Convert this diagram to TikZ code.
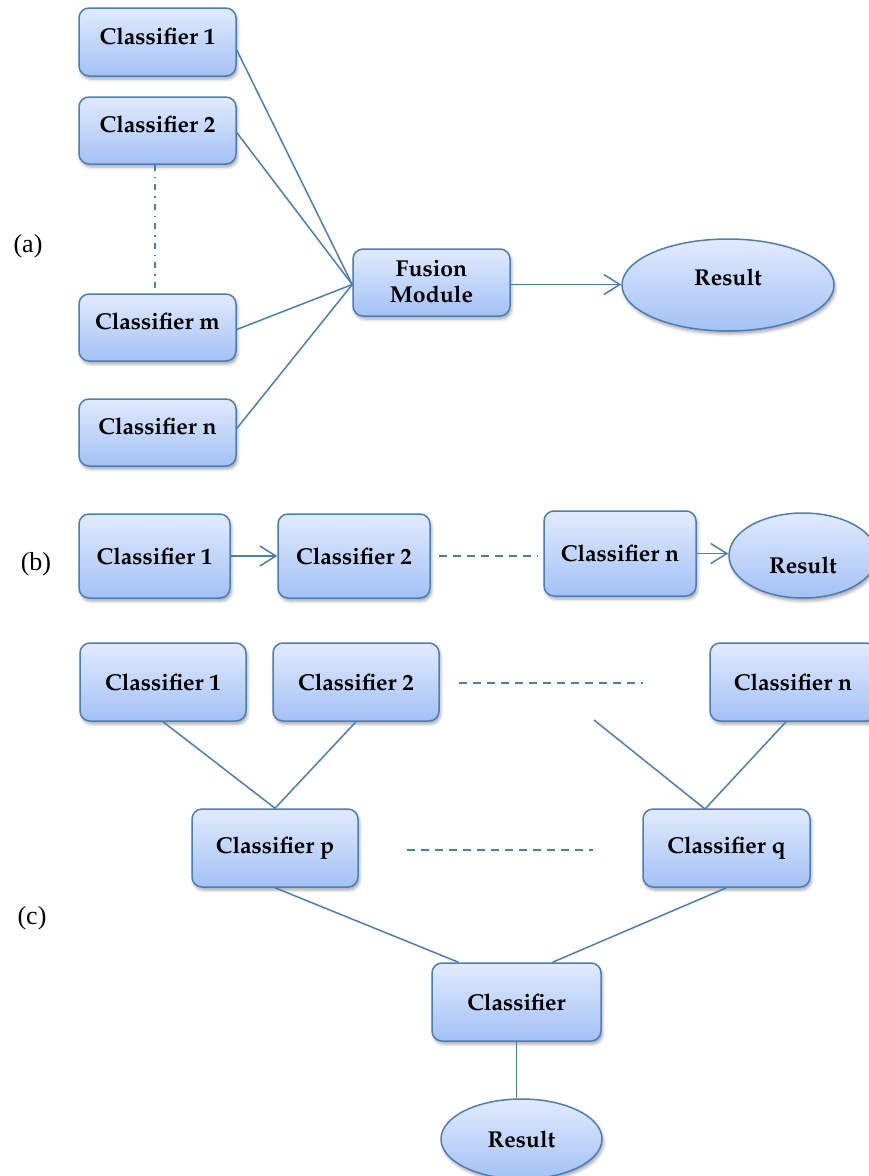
\documentclass[tikz,border=0pt]{standalone}
\usepackage[T1]{fontenc}
\usepackage{fontspec}
\newfontfamily\labelfont{Liberation Serif}
\newcommand\palbold{\fontencoding{T1}\fontfamily{ppl}\fontseries{b}\fontshape{n}\fontsize{23}{26}\selectfont}
\newcommand\labfont{\labelfont\fontsize{26}{30}\selectfont}
\usetikzlibrary{arrows.meta,shadows.blur,shapes.geometric}

\definecolor{edge}{HTML}{4A7EBB}
\definecolor{topfill}{HTML}{E1EBFD}
\definecolor{botfill}{HTML}{A3C1F5}

\tikzset{
  base/.style={draw=edge, line width=1.5pt, top color=topfill, bottom color=botfill,
    blur shadow={shadow xshift=1.5pt, shadow yshift=-3pt, shadow blur radius=3pt, shadow opacity=35},
    font=\palbold, align=center, inner sep=0pt},
  cls/.style={base, rectangle, rounded corners=10pt},
  oval/.style={base, ellipse},
  ltext/.style={font=\palbold, align=center},
  conn/.style={draw=edge, line width=1.5pt},
  arr/.style={conn, -{Straight Barb[length=16pt,width=20pt,line width=1.5pt]}},
  dashline/.style={conn, dash pattern=on 8pt off 6pt},
  dotline/.style={conn, line width=1.3pt, dash pattern=on 6pt off 6pt on 1.5pt off 6pt},
  lab/.style={font=\labfont, inner sep=0pt}
}

\begin{document}
\begin{tikzpicture}[x=1pt,y=-1pt]
\useasboundingbox (0,0) rectangle (869,1176);

% ---------- (a) parallel classifiers with a fusion module ----------
\node[lab] (la) at (28,246) {(a)};
\node[cls, minimum width=157pt, minimum height=68pt, label={[ltext,yshift=6pt]center:Classifier 1}] (a1) at (157.5,42) {};
\node[cls, minimum width=157pt, minimum height=67pt, label={[ltext,yshift=6pt]center:Classifier 2}] (a2) at (157.5,130.5) {};
\node[cls, minimum width=157pt, minimum height=67pt, label={[ltext,yshift=6pt]center:Classifier m}] (am) at (157.5,327.5) {};
\node[cls, minimum width=157pt, minimum height=67pt, label={[ltext,yshift=6pt]center:Classifier n}] (an) at (157.5,432.5) {};
\node[cls, minimum width=157pt, minimum height=67pt, label={[ltext,yshift=1pt]center:Fusion\\Module}] (fus) at (431.5,282.5) {};
\node[oval, minimum width=212pt, minimum height=92pt, label={[ltext,yshift=8pt]center:Result}] (ares) at (728,285) {};

\draw[dotline] (a2.south -| 155,0) -- (am.north -| 155,0);
\draw[conn] ([yshift=-8pt]a1.east) -- ([yshift=-2pt]fus.west);
\draw[conn] ([yshift=-2pt]a2.east) -- ([yshift=-2pt]fus.west);
\draw[conn] ([yshift=-2pt]am.east) -- ([yshift=-2pt]fus.west);
\draw[conn] ([yshift=4pt]an.east) -- ([yshift=-2pt]fus.west);
\draw[arr] ([yshift=-2pt]fus.east) -- ([yshift=-2pt]fus.east -| ares.west);

% ---------- (b) cascade of classifiers ----------
\node[lab] (lb) at (36,564) {(b)};
\node[cls, minimum width=151pt, minimum height=84pt] (b1) at (154.5,556) {Classifier 1};
\node[cls, minimum width=152pt, minimum height=84pt] (b2) at (354,556) {Classifier 2};
\node[cls, minimum width=152pt, minimum height=85pt] (bn) at (620,553.5) {Classifier n};
\node[oval, minimum width=148pt, minimum height=85pt, label={[ltext,yshift=-10pt]center:Result}] (bres) at (803,555.5) {};

\coordinate (bd1) at (439,556);
\coordinate (bd2) at (538,556);
\draw[arr] (b1.east) -- (b2.west);
\draw[dashline] (bd1) -- (bd2);
\draw[arr] (bn.east) -- (bn.east -| bres.west);

% ---------- (c) hierarchical classifiers ----------
\node[lab] (lc) at (32,918) {(c)};
\node[cls, minimum width=166pt, minimum height=78pt] (c1) at (163,682) {Classifier 1};
\node[cls, minimum width=166pt, minimum height=78pt] (c2) at (356,682) {Classifier 2};
\node[cls, minimum width=166pt, minimum height=78pt] (cn) at (793,682) {Classifier n};
\node[cls, minimum width=166pt, minimum height=78pt] (cp) at (275,848) {Classifier p};
\node[cls, minimum width=167pt, minimum height=78pt] (cq) at (726.5,848) {Classifier q};
\node[cls, minimum width=169pt, minimum height=78pt] (cc) at (516.5,1002) {Classifier};
\node[oval, minimum width=161pt, minimum height=80pt] (cres) at (521.5,1139) {Result};

\coordinate (cd1) at (459,683);
\coordinate (cd2) at (643,683);
\coordinate (cd3) at (407,850);
\coordinate (cd4) at (593,850);
\coordinate (cfree) at (594,720);
\coordinate (cqtop) at (705,809);

\draw[dashline] (cd1) -- (cd2);
\draw[dashline] (cd3) -- (cd4);
\draw[conn] (c1.south) -- (cp.north);
\draw[conn] (c2.south) -- (cp.north);
\draw[conn] (cfree) -- (cqtop);
\draw[conn] ([xshift=-7pt]cn.south) -- (cqtop);
\draw[conn] (cp.south) -- ([xshift=-58pt]cc.north);
\draw[conn] (cq.south) -- ([xshift=36pt]cc.north);
\draw[conn] (cc.south) -- (cc.south |- cres.north);
\end{tikzpicture}
\end{document}
